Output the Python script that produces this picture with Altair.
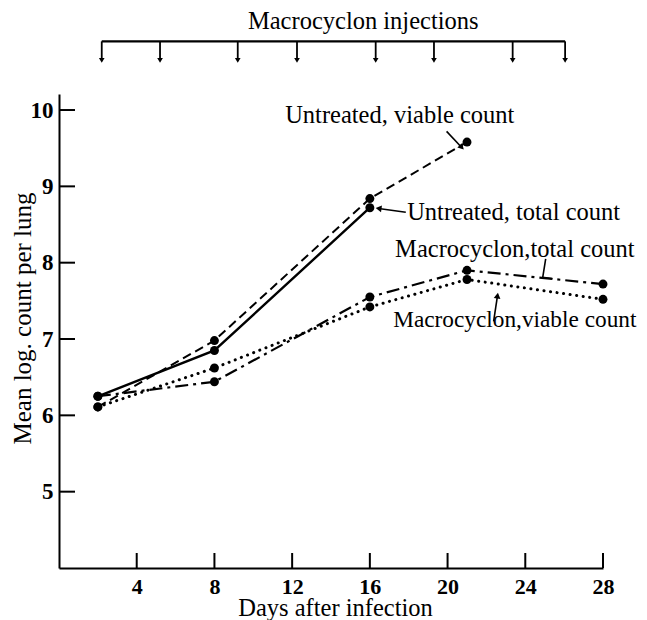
import math
import altair as alt
import pandas as pd

# ---------------- data ----------------
days_untreated_viable = [2, 8, 16, 21]
untreated_viable = [6.11, 6.98, 8.84, 9.58]

days_untreated_total = [2, 8, 16]
untreated_total = [6.25, 6.85, 8.72]

days_macro = [2, 8, 16, 21, 28]
macro_total = [6.25, 6.44, 7.55, 7.90, 7.72]
macro_viable = [6.11, 6.62, 7.42, 7.78, 7.52]

injection_days = [2.2, 5.2, 9.2, 12.25, 16.3, 19.3, 23.35, 26.05]

x_ticks = [4, 8, 12, 16, 20, 24, 28]
y_ticks = [5, 6, 7, 8, 9, 10]

label_texts = [
    "Untreated, viable count",
    "Untreated, total count",
    "Macrocyclon,total count",
    "Macrocyclon,viable count",
]
title_text = "Macrocyclon injections"

# ---------------- layout ----------------
W, H = 544, 474
XDOM = [0, 28]
YDOM = [4, 10.21]
PX_X = W / (XDOM[1] - XDOM[0])
PX_Y = H / (YDOM[1] - YDOM[0])
FONT = "Liberation Serif"
TXT = 24.5

xscale = alt.Scale(domain=XDOM, nice=False, zero=False)
yscale = alt.Scale(domain=YDOM, nice=False, zero=False)

xaxis = alt.Axis(values=x_ticks, ticks=False, grid=False, domainColor="black",
                 domainWidth=2, labelFont=FONT, labelFontSize=22,
                 labelFontWeight="bold", labelColor="black", labelPadding=8,
                 labelFlush=False, labelOverlap=False, format="d",
                 title="Days after infection", titleFont=FONT, titleFontSize=TXT,
                 titleFontWeight="normal", titleColor="black",
                 titleBaseline="alphabetic", titleY=47, titleX=276)
yaxis = alt.Axis(values=y_ticks, ticks=False, grid=False, domainColor="black",
                 domainWidth=2, labelFont=FONT, labelFontSize=23,
                 labelFontWeight="bold", labelColor="black", labelPadding=6,
                 labelOverlap=False, format="d",
                 title="Mean log. count per lung", titleFont=FONT,
                 titleFontSize=25, titleFontWeight="normal", titleColor="black",
                 titleAngle=270, titleBaseline="alphabetic", titleAlign="center",
                 titleX=-29, titleY=224)


def X(field="x"):
    return alt.X(field, type="quantitative", scale=xscale, axis=xaxis)


def Y(field="y"):
    return alt.Y(field, type="quantitative", scale=yscale, axis=yaxis)


layers = []

# tick marks drawn inward
xt = pd.DataFrame({"x": x_ticks, "y": [YDOM[0]] * len(x_ticks),
                   "y2": [YDOM[0] + 15 / PX_Y] * len(x_ticks)})
layers.append(alt.Chart(xt).mark_rule(color="black", strokeWidth=2).encode(
    x=X(), y=Y(), y2="y2"))
yt = pd.DataFrame({"y": y_ticks, "x": [XDOM[0]] * len(y_ticks),
                   "x2": [XDOM[0] + 16 / PX_X] * len(y_ticks)})
layers.append(alt.Chart(yt).mark_rule(color="black", strokeWidth=2).encode(
    x=X(), x2="x2", y=Y()))

# series
series = [
    (days_untreated_viable, untreated_viable, dict(strokeDash=[9, 5], strokeWidth=2)),
    (days_untreated_total, untreated_total, dict(strokeWidth=2.4)),
    (days_macro, macro_total, dict(strokeDash=[13, 5, 3, 5], strokeWidth=2.2)),
    (days_macro, macro_viable, dict(strokeDash=[0.1, 6.5], strokeWidth=3, strokeCap="round")),
]
for d, v, style in series:
    df = pd.DataFrame({"x": d, "y": v})
    layers.append(alt.Chart(df).mark_line(color="black", **style).encode(x=X(), y=Y()))
    layers.append(alt.Chart(df).mark_point(filled=True, color="black", size=80, opacity=1)
                  .encode(x=X(), y=Y()))

# injection arrows at the top
bar_y, tip_y = 10.90, 10.60
inj = pd.DataFrame({"x": [injection_days[0], injection_days[-1]], "y": [bar_y, bar_y]})
layers.append(alt.Chart(inj).mark_line(color="black", strokeWidth=2.2).encode(x=X(), y=Y()))
stems = pd.DataFrame({"x": injection_days, "y": [bar_y] * len(injection_days),
                      "y2": [tip_y + 0.05] * len(injection_days)})
layers.append(alt.Chart(stems).mark_rule(color="black", strokeWidth=1.8).encode(
    x=X(), y=Y(), y2="y2"))
heads = pd.DataFrame({"x": injection_days, "y": [tip_y + 0.05] * len(injection_days)})
layers.append(alt.Chart(heads).mark_point(shape="triangle-down", filled=True, color="black",
                                          size=32, opacity=1).encode(x=X(), y=Y()))
title_df = pd.DataFrame({"x": [15.66], "y": [11.15], "t": [title_text]})
layers.append(alt.Chart(title_df).mark_text(font=FONT, fontSize=TXT, color="black",
                                            baseline="middle", align="center")
              .encode(x=X(), y=Y(), text="t"))

# annotation labels
ann = pd.DataFrame({"x": [11.64, 17.92, 17.3, 17.2],
                    "y": [9.92, 8.65, 8.16, 7.25],
                    "t": label_texts,
                    "s": [TXT, TXT, TXT, 23.3]})
layers.append(alt.Chart(ann).mark_text(font=FONT, color="black",
                                       baseline="middle", align="left")
              .encode(x=X(), y=Y(), text="t", size=alt.Size("s:Q", scale=None)))

# annotation pointers
pointers = [
    [(19.95, 9.72), (20.73, 9.51)],
    [(17.85, 8.66), (16.45, 8.71)],
    [(25.05, 8.05), (24.9, 7.81), (25.4, 7.79)],
    [(22.37, 7.23), (22.57, 7.57)],
]
with_head = [True, True, False, True]
rows, hrows = [], []
for i, pts in enumerate(pointers):
    for j, (px, py) in enumerate(pts):
        rows.append({"x": px, "y": py, "id": i, "o": j})
    if with_head[i]:
        (x1, y1), (x2, y2) = pts[-2], pts[-1]
        dx = (x2 - x1) * PX_X
        dy = -(y2 - y1) * PX_Y
        ang = math.degrees(math.atan2(dx, -dy)) % 360
        hrows.append({"x": x2, "y": y2, "a": ang})
pdf = pd.DataFrame(rows)
layers.append(alt.Chart(pdf).mark_line(color="black", strokeWidth=1.6).encode(
    x=X(), y=Y(), detail="id:N", order="o:Q"))
hdf = pd.DataFrame(hrows)
layers.append(alt.Chart(hdf).mark_point(shape="triangle-up", filled=True, color="black",
                                        size=45, opacity=1).encode(
    x=X(), y=Y(), angle=alt.Angle("a:Q", scale=None)))

chart = alt.layer(*layers).properties(
    width=W, height=H,
    autosize=alt.AutoSizeParams(type="none"),
    padding={"left": 51, "top": 86, "right": 36, "bottom": 52},
    background="white",
).configure_view(stroke=None)

chart.save("out.html", embed_options={"renderer": "svg", "actions": False})
